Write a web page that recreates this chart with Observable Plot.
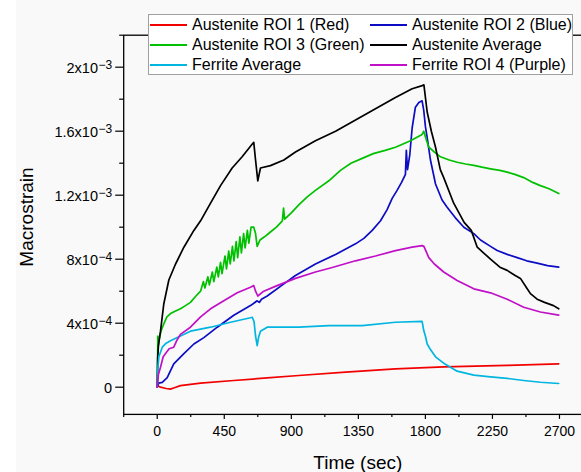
<!DOCTYPE html>
<html><head><meta charset="utf-8">
<script src="https://cdn.jsdelivr.net/npm/d3@7"></script>
<script src="https://cdn.jsdelivr.net/npm/@observablehq/plot@0.6"></script>
<style>
html,body{margin:0;padding:0;background:#f9f9f9;overflow:hidden;width:581px;height:472px}
#wrap{position:relative;width:581px;height:472px;overflow:hidden;font-family:"Liberation Sans",Arial,sans-serif}
#strip{position:absolute;left:0;top:0;width:16px;height:472px;background:#fff}
#legend{position:absolute;left:148px;top:14px;width:425px;height:61px;background:#fff;border:1px solid #a0a0a0;box-sizing:border-box}
.li{position:absolute;height:20px;display:flex;align-items:center;font-size:16px;color:#000;white-space:nowrap}
.li span.sw{display:inline-block;width:37px;height:0;border-top:2px solid;margin-right:5px}
</style></head><body><div id="wrap"><div id="strip"></div></div>
<script>
// ---- data (time in sec, macrostrain) ----
const seriesNames = ["Austenite ROI 1 (Red)","Austenite ROI 2 (Blue)","Austenite ROI 3 (Green)","Austenite Average","Ferrite Average","Ferrite ROI 4 (Purple)"];
const seriesColors = ["#f20000","#0c0cc4","#00c000","#000000","#00b6e0","#c010c8"];

const austeniteRoi1 = [[0,1e-5],[22,0],[60,-8e-6],[89,-1.2e-5],[120,-2e-6],[156,1e-5],[291,2.5e-5],[514,4.2e-5],[738,5.8e-5],[950,7.3e-5],[1264,9.4e-5],[1599,1.15e-4],[1923,1.27e-4],[2349,1.36e-4],[2695,1.46e-4]];

const austeniteRoi2 = [[0,0],[10,2.5e-5],[34,3e-5],[67,6e-5],[111,1.46e-4],[179,2.1e-4],[246,2.7e-4],[313,3.1e-4],[403,3.75e-4],[514,4.5e-4],[626,5.1e-4],[671,5.4e-4],[685,5.3e-4],[700,5.5e-4],[738,5.7e-4],[850,6.46e-4],[928,6.98e-4],[1062,7.7e-4],[1197,8.3e-4],[1331,8.96e-4],[1387,9.3e-4],[1443,9.8e-4],[1499,1.04e-3],[1543,1.11e-3],[1577,1.18e-3],[1610,1.23e-3],[1640,1.28e-3],[1666,1.33e-3],[1672,1.48e-3],[1680,1.36e-3],[1695,1.45e-3],[1711,1.62e-3],[1733,1.75e-3],[1756,1.78e-3],[1778,1.79e-3],[1789,1.73e-3],[1800,1.63e-3],[1812,1.56e-3],[1834,1.42e-3],[1868,1.27e-3],[1912,1.17e-3],[1946,1.125e-3],[2000,1.06e-3],[2058,1.0e-3],[2125,9.6e-4],[2170,9.2e-4],[2237,8.8e-4],[2282,8.54e-4],[2349,8.3e-4],[2416,8.1e-4],[2480,7.9e-4],[2550,7.75e-4],[2620,7.6e-4],[2695,7.5e-4]];

const austeniteRoi3 = [[0,0],[2,1.0e-4],[4,3.2e-4],[8,2.6e-4],[11,2.9e-4],[25,3.5e-4],[44,3.96e-4],[65,4.4e-4],[89,4.6e-4],[120,4.75e-4],[156,4.9e-4],[190,5.1e-4],[223,5.3e-4],[260,5.7e-4],[291,6.0e-4],[310,6.6e-4],[320,6.2e-4],[340,6.9e-4],[350,6.4e-4],[370,7.2e-4],[380,6.6e-4],[400,7.5e-4],[410,6.9e-4],[425,7.8e-4],[435,7.1e-4],[455,8.2e-4],[465,7.4e-4],[480,8.5e-4],[490,7.7e-4],[505,8.8e-4],[515,7.9e-4],[530,9.1e-4],[540,8.1e-4],[555,9.4e-4],[565,8.4e-4],[580,9.6e-4],[590,8.7e-4],[605,9.8e-4],[615,9.0e-4],[630,1.0e-3],[648,1.0e-3],[660,9.6e-4],[671,8.8e-4],[690,9.2e-4],[720,9.4e-4],[760,9.7e-4],[800,1.0e-3],[840,1.04e-3],[848,1.12e-3],[855,1.05e-3],[900,1.09e-3],[950,1.14e-3],[1007,1.19e-3],[1062,1.23e-3],[1152,1.29e-3],[1230,1.355e-3],[1300,1.40e-3],[1376,1.43e-3],[1450,1.46e-3],[1530,1.48e-3],[1599,1.50e-3],[1700,1.54e-3],[1778,1.58e-3],[1789,1.6e-3],[1805,1.55e-3],[1823,1.5e-3],[1860,1.47e-3],[1901,1.44e-3],[1960,1.42e-3],[2013,1.406e-3],[2070,1.395e-3],[2125,1.386e-3],[2180,1.375e-3],[2237,1.365e-3],[2300,1.355e-3],[2349,1.344e-3],[2400,1.33e-3],[2460,1.31e-3],[2520,1.28e-3],[2572,1.26e-3],[2630,1.24e-3],[2695,1.21e-3]];

const austeniteAverage = [[0,0],[3,1.8e-4],[8,2.6e-4],[22,3.5e-4],[44,5.2e-4],[78,6.7e-4],[123,7.7e-4],[179,8.75e-4],[246,9.8e-4],[291,1.04e-3],[358,1.15e-3],[425,1.26e-3],[503,1.37e-3],[570,1.44e-3],[638,1.52e-3],[648,1.53e-3],[660,1.42e-3],[675,1.29e-3],[693,1.37e-3],[760,1.385e-3],[850,1.42e-3],[928,1.47e-3],[1062,1.54e-3],[1197,1.60e-3],[1331,1.67e-3],[1465,1.74e-3],[1599,1.81e-3],[1711,1.865e-3],[1779,1.885e-3],[1790,1.89e-3],[1812,1.72e-3],[1840,1.6e-3],[1868,1.5e-3],[1900,1.36e-3],[1923,1.31e-3],[1990,1.15e-3],[2060,1.03e-3],[2108,9.8e-4],[2148,8.75e-4],[2190,8.4e-4],[2237,8.0e-4],[2300,7.5e-4],[2349,7.3e-4],[2400,7.0e-4],[2438,6.8e-4],[2480,6.2e-4],[2505,5.85e-4],[2550,5.5e-4],[2600,5.3e-4],[2660,5.1e-4],[2695,4.9e-4]];

const ferriteAverage = [[0,0],[5,1.3e-4],[11,1.9e-4],[34,2.5e-4],[60,2.75e-4],[89,2.9e-4],[156,3.2e-4],[223,3.5e-4],[358,3.75e-4],[492,4.06e-4],[626,4.34e-4],[638,4.37e-4],[650,4.1e-4],[660,3.2e-4],[671,2.6e-4],[680,3.1e-4],[693,3.5e-4],[738,3.75e-4],[850,3.75e-4],[950,3.75e-4],[1152,3.85e-4],[1376,3.85e-4],[1599,4.06e-4],[1778,4.12e-4],[1789,3.54e-4],[1800,3.2e-4],[1812,2.7e-4],[1834,2.35e-4],[1868,1.9e-4],[1923,1.5e-4],[2013,1.0e-4],[2125,7.5e-5],[2237,6.5e-5],[2349,5.5e-5],[2460,4.2e-5],[2572,3.1e-5],[2695,2.3e-5]];

const ferriteRoi4 = [[0,0],[8,8e-5],[22,1.25e-4],[40,1.9e-4],[56,2.1e-4],[80,2.4e-4],[111,2.5e-4],[130,2.9e-4],[156,3.3e-4],[223,3.75e-4],[291,4.4e-4],[358,4.9e-4],[447,5.4e-4],[537,5.9e-4],[626,6.25e-4],[648,6.35e-4],[660,6.0e-4],[675,5.7e-4],[715,6.0e-4],[805,6.35e-4],[928,6.8e-4],[1062,7.2e-4],[1163,7.45e-4],[1331,7.9e-4],[1465,8.2e-4],[1599,8.54e-4],[1711,8.75e-4],[1778,8.85e-4],[1790,8.8e-4],[1823,8.1e-4],[1860,7.7e-4],[1923,7.2e-4],[2013,6.67e-4],[2125,6.15e-4],[2237,5.9e-4],[2349,5.5e-4],[2460,5.0e-4],[2572,4.7e-4],[2695,4.5e-4]];

const xTicks = [0,450,900,1350,1800,2250,2700];
const xMinorTicks = [-225,225,675,1125,1575,2025,2475,2925];
const yTicks = [0,4e-4,8e-4,1.2e-3,1.6e-3,2e-3];
const yTickLabels = ["0","4x10^\u22124","8x10^\u22124","1.2x10^\u22123","1.6x10^\u22123","2x10^\u22123"];
const yMinorTicks = [2e-4,6e-4,1e-3,1.4e-3,1.8e-3,2.2e-3];
const xLabel = "Time (sec)";
const yLabel = "Macrostrain";

const allSeries = [austeniteRoi1, austeniteRoi2, austeniteRoi3, austeniteAverage, ferriteAverage, ferriteRoi4];

const lineMarks = allSeries.map((s, i) =>
  Plot.line(s, {x: d => d[0], y: d => d[1], stroke: seriesColors[i], strokeWidth: 1.7, strokeLinejoin: "round"}));

const chart = Plot.plot({
  width: 600, height: 472,
  marginLeft: 123.2, marginRight: 7.5, marginTop: 34.7, marginBottom: 58.1,
  style: {background: "transparent", fontFamily: "'Liberation Sans', Arial, sans-serif", color: "#000", maxWidth: "none"},
  x: {domain: [-225, 2925]},
  y: {domain: [-1.7e-4, 2.2e-3]},
  marks: [
    ...lineMarks,
    Plot.frame({stroke: "#000", strokeWidth: 1.3}),
    Plot.axisX({ticks: xTicks, tickSize: 5, tickPadding: 7, fontSize: 14, label: null, tickFormat: d => String(d), strokeWidth: 1.2}),
    Plot.axisX({ticks: xMinorTicks, tickSize: 3, label: null, tickFormat: () => "", strokeWidth: 1.2}),
    Plot.axisY({ticks: yTicks, tickSize: 8, tickPadding: 3.5, fontSize: 14.5, label: null,
      tickFormat: d => yTickLabels[yTicks.indexOf(d)], strokeWidth: 1.2}),
    Plot.axisY({ticks: yMinorTicks, tickSize: 4, label: null, tickFormat: () => "", strokeWidth: 1.2})
  ]
});

// y tick labels: build superscripts
chart.querySelectorAll('[aria-label="y-axis tick label"] text').forEach(t => {
  t.setAttribute("dy", "1.5");
  const s = t.textContent;
  if (s.includes("^")) {
    const [base, exp] = s.split("^");
    t.textContent = "";
    const a = document.createElementNS("http://www.w3.org/2000/svg", "tspan");
    a.textContent = base;
    const b = document.createElementNS("http://www.w3.org/2000/svg", "tspan");
    b.textContent = exp;
    b.setAttribute("font-size", "12");
    b.setAttribute("dy", "-4");
    b.setAttribute("dx", "0.5");
    t.appendChild(a); t.appendChild(b);
  }
});

const svg = d3.select(chart);
svg.append("text").attr("x", 357.8).attr("y", 469).attr("text-anchor", "middle")
  .attr("font-size", 19).attr("fill", "#000").text(xLabel);
svg.append("text").attr("transform", "translate(33,217) rotate(-90)").attr("text-anchor", "middle")
  .attr("font-size", 19).attr("fill", "#000").text(yLabel);

chart.style.position = "absolute";
chart.style.left = "0px";
chart.style.top = "0px";
chart.style.maxWidth = "none";
chart.style.width = "600px";
chart.style.height = "472px";
const wrap = document.getElementById("wrap");
wrap.appendChild(chart);

// legend
const legend = document.createElement("div");
legend.id = "legend";
const pos = [[1,0],[221,0],[1,20],[221,20],[1,40],[221,40]];
seriesNames.forEach((n, i) => {
  const item = document.createElement("div");
  item.className = "li";
  item.style.left = pos[i][0] + "px";
  item.style.top = pos[i][1] + "px";
  const sw = document.createElement("span");
  sw.className = "sw";
  sw.style.borderTopColor = seriesColors[i];
  item.appendChild(sw);
  item.appendChild(document.createTextNode(n));
  legend.appendChild(item);
});
wrap.appendChild(legend);
</script></body></html>
